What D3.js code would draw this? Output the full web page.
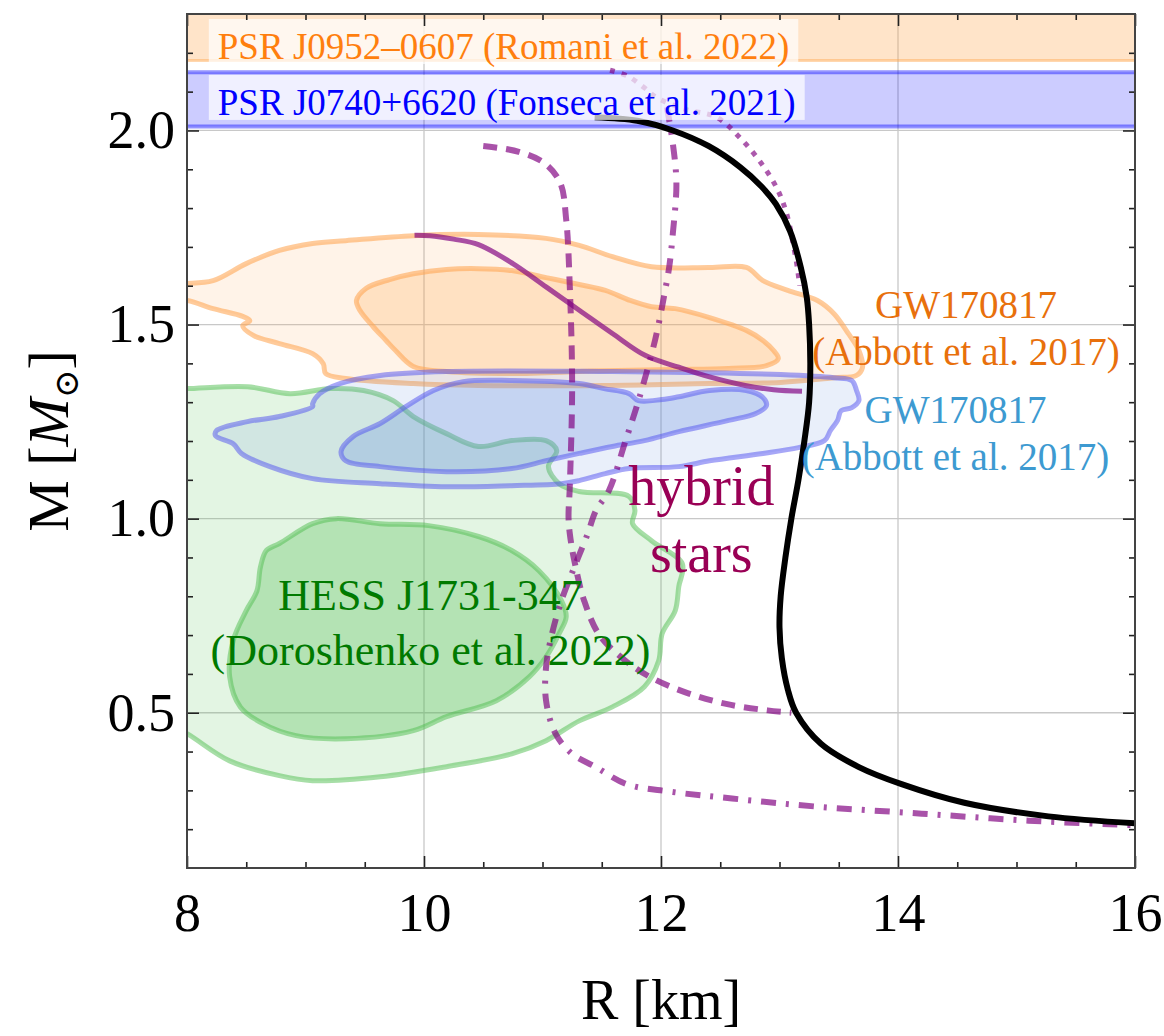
<!DOCTYPE html>
<html>
<head>
<meta charset="utf-8">
<script src="https://cdn.jsdelivr.net/npm/d3@7/dist/d3.min.js"></script>
<style>
  body { margin: 0; background: #fff; }
  svg text { font-family: "Liberation Serif", "DejaVu Serif", serif; }
</style>
</head>
<body>
<script>
// axis ticks
const xTicks = [8, 10, 12, 14, 16];
const xTickLabels = ["8", "10", "12", "14", "16"];
const xMinorTicks = [8.5, 9, 9.5, 10.5, 11, 11.5, 12.5, 13, 13.5, 14.5, 15, 15.5];
const yTicks = [0.5, 1.0, 1.5, 2.0];
const yTickLabels = ["0.5", "1.0", "1.5", "2.0"];
const yMinorTicks = [0.2, 0.3, 0.4, 0.6, 0.7, 0.8, 0.9, 1.1, 1.2, 1.3, 1.4, 1.6, 1.7, 1.8, 1.9, 2.1, 2.2];

// pulsar mass bands [low, high] in Msun
const psrJ0952 = [2.18, 2.52];
const psrJ0740 = [2.01, 2.15];

// M-R curves [R km, M Msun]
const mrBlack = [[11.44,2.034],[11.8,2.025],[12.1,2.0],[12.4,1.96],[12.67,1.905],[12.85,1.855],[12.97,1.81],
  [13.09,1.74],[13.18,1.647],[13.23,1.57],[13.25,1.5],[13.26,1.4],[13.25,1.3],[13.21,1.2],[13.16,1.1],
  [13.1,1.0],[13.05,0.9],[13.01,0.8],[13.0,0.72],[13.02,0.64],[13.07,0.56],[13.14,0.5],[13.35,0.42],
  [13.67,0.36],[14.03,0.316],[14.56,0.268],[15.27,0.233],[16.0,0.215]];
const mrDotted = [[11.57,2.155],[11.72,2.14],[11.86,2.11],[11.96,2.085],[12.2,2.055],[12.47,2.034],[12.67,1.98],
  [12.84,1.918],[12.98,1.85],[13.06,1.786],[13.12,1.70],[13.15,1.647],[13.17,1.6]];
const mrDashed = [[10.5,1.96],[10.8,1.945],[11.02,1.915],[11.15,1.865],[11.2,1.77],[11.23,1.6],[11.25,1.34],
  [11.23,1.08],[11.22,1.0],[11.24,0.94],[11.28,0.875],[11.35,0.79],[11.48,0.70],[11.7,0.634],[11.92,0.59],
  [12.23,0.55],[12.56,0.522],[12.9,0.506],[13.1,0.5]];
const mrDashDot = [[12.05,2.06],[12.1,1.966],[12.13,1.863],[12.1,1.735],[12.07,1.65],[12.03,1.58],[11.95,1.46],
  [11.81,1.304],[11.7,1.2],[11.56,1.072],[11.45,1.02],[11.38,0.96],[11.27,0.876],[11.16,0.789],[11.08,0.703],
  [11.03,0.617],[11.03,0.531],[11.11,0.446],[11.25,0.394],[11.45,0.36],[11.71,0.316],[12.07,0.297],
  [12.6,0.279],[13.32,0.258],[14.2,0.24],[15.1,0.222],[16.0,0.21]];
const mrSolid = [[9.92,1.73],[10.05,1.729],[10.25,1.72],[10.46,1.706],[10.75,1.657],[11.03,1.597],[11.31,1.537],
  [11.59,1.477],[11.87,1.42],[12.15,1.39],[12.41,1.365],[12.71,1.343],[12.95,1.332],[13.19,1.328]];

// credible-region contours [R, M]
const gwHeavyOuter = [[7.86,1.606],[8.0,1.606],[8.22,1.613],[8.5,1.657],[8.78,1.691],[9.06,1.709],[9.34,1.716],
  [9.91,1.729],[10.46,1.732],[11.03,1.722],[11.31,1.704],[11.59,1.675],[11.92,1.649],[12.41,1.647],[12.72,1.647],
  [12.86,1.613],[13.07,1.588],[13.32,1.562],[13.46,1.528],[13.58,1.477],[13.67,1.433],[13.70,1.389],[13.65,1.369],
  [13.46,1.363],[13.01,1.351],[12.41,1.348],[11.52,1.343],[10.46,1.343],[9.91,1.348],[9.34,1.361],[9.17,1.374],
  [9.15,1.399],[9.06,1.425],[8.78,1.451],[8.56,1.472],[8.47,1.497],[8.53,1.510],[8.47,1.521],[8.22,1.541],
  [8.0,1.562],[7.86,1.562]];
const gwHeavyInner = [[9.43,1.562],[9.51,1.593],[9.71,1.616],[9.91,1.631],[10.19,1.642],[10.46,1.644],[10.74,1.639],
  [11.03,1.621],[11.31,1.603],[11.53,1.588],[11.74,1.562],[11.92,1.546],[12.12,1.541],[12.41,1.518],[12.72,1.485],
  [12.86,1.459],[12.95,1.433],[12.99,1.412],[12.89,1.394],[12.57,1.387],[12.12,1.384],[11.52,1.381],[11.31,1.379],
  [10.74,1.374],[10.19,1.379],[9.91,1.392],[9.76,1.433],[9.68,1.459],[9.57,1.495],[9.46,1.536]];
const gwLightOuter = [[9.06,1.296],[9.12,1.322],[9.29,1.348],[9.63,1.369],[10.19,1.379],[11.59,1.379],[12.41,1.376],
  [13.01,1.371],[13.46,1.363],[13.61,1.356],[13.65,1.330],[13.67,1.304],[13.61,1.286],[13.52,1.278],[13.49,1.253],
  [13.43,1.227],[13.38,1.201],[13.16,1.183],[12.86,1.168],[12.41,1.149],[12.15,1.134],[11.73,1.129],[11.53,1.116],
  [11.31,1.098],[11.16,1.090],[10.74,1.085],[10.19,1.082],[9.63,1.090],[9.06,1.103],[8.70,1.134],[8.46,1.168],
  [8.39,1.193],[8.24,1.214],[8.25,1.227],[8.51,1.250],[8.78,1.263],[9.06,1.289]];
const gwLightInner = [[9.30,1.173],[9.40,1.211],[9.63,1.245],[9.85,1.289],[10.08,1.330],[10.33,1.353],[10.74,1.356],
  [11.31,1.348],[11.52,1.335],[11.73,1.322],[11.81,1.304],[12.01,1.307],[12.15,1.314],[12.41,1.330],[12.72,1.330],
  [12.86,1.312],[12.89,1.291],[12.80,1.271],[12.57,1.253],[12.15,1.224],[11.86,1.201],[11.59,1.186],[11.31,1.168],
  [11.03,1.149],[10.74,1.129],[10.19,1.121],[9.63,1.134],[9.34,1.149]];
const hessOuter = [[7.86,1.335],[8.0,1.335],[8.51,1.340],[8.87,1.322],[9.21,1.335],[9.49,1.330],[9.74,1.304],
  [9.91,1.263],[10.19,1.219],[10.46,1.186],[10.74,1.201],[11.03,1.201],[11.12,1.175],[11.05,1.134],[11.14,1.090],
  [11.31,1.070],[11.73,1.057],[11.78,1.021],[11.76,0.987],[11.92,0.943],[12.18,0.884],[12.15,0.825],[12.12,0.763],
  [12.01,0.704],[11.98,0.634],[11.86,0.567],[11.59,0.515],[11.31,0.479],[11.03,0.428],[10.74,0.394],[10.19,0.361],
  [9.63,0.335],[9.06,0.325],[8.78,0.338],[8.36,0.376],[8.0,0.446],[7.86,0.466]];
const hessInner = [[8.78,0.936],[9.06,0.987],[9.26,1.0],[9.63,0.987],[10.04,0.982],[10.46,0.954],[10.74,0.918],
  [10.97,0.866],[11.16,0.789],[11.20,0.747],[11.14,0.704],[11.03,0.644],[10.89,0.593],[10.61,0.531],[10.19,0.490],
  [9.91,0.454],[9.34,0.433],[8.92,0.441],[8.64,0.472],[8.45,0.515],[8.36,0.593],[8.39,0.686],[8.50,0.763],
  [8.59,0.814],[8.62,0.876],[8.67,0.918]];

const width = 1164, height = 1036;
const pl = 187, pr = 1135, pt = 14, pb = 868;

const svg = d3.select("body").append("svg").attr("width", width).attr("height", height);

const x = d3.scaleLinear().domain([8, 16]).range([pl, pr]);
const y = d3.scaleLinear().domain([0.1, 2.3]).range([pb, pt]);

svg.append("clipPath").attr("id", "clip").append("rect")
  .attr("x", pl).attr("y", pt).attr("width", pr - pl).attr("height", pb - pt);

const plot = svg.append("g").attr("clip-path", "url(#clip)");

// grid
plot.selectAll(".gx").data(xTicks).join("line")
  .attr("x1", d => x(d)).attr("x2", d => x(d)).attr("y1", pt).attr("y2", pb)
  .attr("stroke", "#c8c8c8").attr("stroke-width", 1.3);
plot.selectAll(".gy").data(yTicks).join("line")
  .attr("y1", d => y(d)).attr("y2", d => y(d)).attr("x1", pl).attr("x2", pr)
  .attr("stroke", "#c8c8c8").attr("stroke-width", 1.3);

// mass bands
function band(b, color, fillOp, edgeOp, edgeW) {
  plot.append("rect").attr("x", pl - 10).attr("width", pr - pl + 20)
    .attr("y", y(b[1])).attr("height", y(b[0]) - y(b[1]))
    .attr("fill", color).attr("fill-opacity", fillOp);
  plot.append("g").selectAll("line").data(b).join("line")
    .attr("x1", pl - 10).attr("x2", pr + 10).attr("y1", d => y(d)).attr("y2", d => y(d))
    .attr("stroke", color).attr("stroke-opacity", edgeOp).attr("stroke-width", edgeW);
}
band(psrJ0952, "#ffa64d", 0.3, 0.45, 3);
band(psrJ0740, "#0000ff", 0.2, 0.42, 4);

// contours
const closed = d3.line().x(d => x(d[0])).y(d => y(d[1])).curve(d3.curveCatmullRomClosed.alpha(0.5));
function contour(pts, fill, fillOp, stroke, strokeOp) {
  plot.append("path").attr("d", closed(pts))
    .attr("fill", fill).attr("fill-opacity", fillOp)
    .attr("stroke", stroke).attr("stroke-opacity", strokeOp)
    .attr("stroke-width", 5).attr("stroke-linejoin", "round");
}
contour(hessOuter, "#50be50", 0.16, "#50be50", 0.5);
contour(hessInner, "#50be50", 0.32, "#50be50", 0.5);
contour(gwHeavyOuter, "#ffa64d", 0.13, "#ffa552", 0.58);
contour(gwHeavyInner, "#ffa64d", 0.24, "#ffa552", 0.58);
contour(gwLightOuter, "#648cdc", 0.14, "#5050f0", 0.5);
contour(gwLightInner, "#648cdc", 0.27, "#5050f0", 0.5);

// M-R curves
const open = d3.line().x(d => x(d[0])).y(d => y(d[1])).curve(d3.curveCatmullRom.alpha(0.5));
function mr(pts, color, op, w, dash) {
  plot.append("path").attr("d", open(pts)).attr("fill", "none")
    .attr("stroke", color).attr("stroke-opacity", op).attr("stroke-width", w)
    .attr("stroke-dasharray", dash).attr("stroke-linecap", "butt");
}
mr(mrDotted, "#800080", 0.65, 5, "5,7");
mr(mrDashed, "#800080", 0.68, 6, "14,9");
mr(mrDashDot, "#800080", 0.68, 6, "15,10,3,10");
mr(mrSolid, "#800080", 0.68, 5, null);
mr(mrBlack, "#000000", 1, 6, null);

// annotations
const labels = [
  { t: "GW170817", r: 14.574, m: 1.517, c: "#e8700c", s: 39, a: "middle" },
  { t: "(Abbott et al. 2017)", r: 14.574, m: 1.396, c: "#e8700c", s: 39, a: "middle" },
  { t: "GW170817", r: 14.485, m: 1.246, c: "#3d9ad1", s: 39, a: "middle" },
  { t: "(Abbott et al. 2017)", r: 14.485, m: 1.125, c: "#3d9ad1", s: 39, a: "middle" },
  { t: "HESS J1731-347", r: 10.055, m: 0.765, c: "#007a00", s: 44, a: "middle" },
  { t: "(Doroshenko et al. 2022)", r: 10.055, m: 0.623, c: "#007a00", s: 44, a: "middle" },
  { t: "hybrid", r: 12.34, m: 1.035, c: "#990055", s: 56, a: "middle" },
  { t: "stars", r: 12.34, m: 0.863, c: "#990055", s: 56, a: "middle" }
];
svg.append("g").selectAll("text").data(labels).join("text")
  .attr("x", d => x(d.r)).attr("y", d => y(d.m))
  .attr("fill", d => d.c).attr("font-size", d => d.s).attr("text-anchor", d => d.a)
  .text(d => d.t);

// pulsar labels with translucent boxes
const boxed = [
  { t: "PSR J0952\u20130607 (Romani et al. 2022)", r: 8.26, m: 2.184, c: "#ff7f0e" },
  { t: "PSR J0740+6620 (Fonseca et al. 2021)", r: 8.26, m: 2.040, c: "#0000ff" }
];
boxed.forEach(d => {
  const g = svg.append("g");
  const rect = g.append("rect");
  const t = g.append("text").attr("x", x(d.r)).attr("y", y(d.m))
    .attr("fill", d.c).attr("font-size", 37).text(d.t);
  const bb = t.node().getBBox();
  rect.attr("x", bb.x - 9).attr("width", bb.width + 18)
    .attr("y", y(d.m) - 40).attr("height", 45)
    .attr("fill", "#ffffff").attr("fill-opacity", 0.7);
});

// axes
function addAxis(axis, tx, ty, values, size, fmt, pad) {
  const g = svg.append("g").attr("transform", `translate(${tx},${ty})`)
    .call(axis.tickValues(values).tickSize(size).tickPadding(pad || 3).tickFormat(fmt || (() => "")));
  g.select(".domain").remove();
  g.selectAll(".tick line").attr("stroke", "#222").attr("stroke-width", 1.6);
  g.selectAll(".tick text").attr("fill", "#000").attr("font-size", 54);
  return g;
}
addAxis(d3.axisBottom(x), 0, pb, xTicks, -12, d => xTickLabels[xTicks.indexOf(d)], 25);
addAxis(d3.axisBottom(x), 0, pb, xMinorTicks, -6);
addAxis(d3.axisTop(x), 0, pt, xTicks, -12);
addAxis(d3.axisTop(x), 0, pt, xMinorTicks, -6);
addAxis(d3.axisLeft(y), pl, 0, yTicks, -12, d => yTickLabels[yTicks.indexOf(d)], 12);
addAxis(d3.axisLeft(y), pl, 0, yMinorTicks, -6);
addAxis(d3.axisRight(y), pr, 0, yTicks, -12);
addAxis(d3.axisRight(y), pr, 0, yMinorTicks, -6);

svg.append("rect").attr("x", pl).attr("y", pt)
  .attr("width", pr - pl).attr("height", pb - pt)
  .attr("fill", "none").attr("stroke", "#444").attr("stroke-width", 2);

// axis titles
svg.append("text").attr("x", (pl + pr) / 2).attr("y", 1019)
  .attr("text-anchor", "middle").attr("font-size", 56).text("R [km]");

const yt = svg.append("text").attr("transform", "translate(68,441) rotate(-90)")
  .attr("text-anchor", "middle").attr("font-size", 58);
yt.append("tspan").text("M [");
yt.append("tspan").attr("font-style", "italic").text("M");
yt.append("tspan").attr("font-size", 34).attr("dy", 10).attr("font-family", "DejaVu Serif").text("\u2299");
yt.append("tspan").attr("dy", -10).text("]");
</script>
</body>
</html>
